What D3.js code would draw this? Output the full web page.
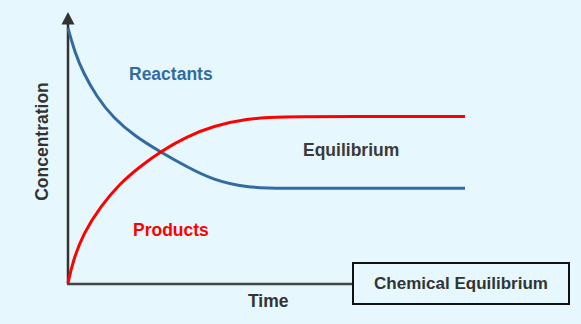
<!DOCTYPE html>
<html>
<head>
<meta charset="utf-8">
<script src="https://cdn.jsdelivr.net/npm/d3@7"></script>
<style>
  body { margin: 0; background: #e6f8fd; }
  svg { display: block; }
  text { font-family: "Liberation Sans", Arial, sans-serif; font-weight: bold; }
</style>
</head>
<body>
<svg id="canvas" width="581" height="324"></svg>
<script>
// time points and concentrations
let reactantTime = [0, 0.18, 0.39, 0.72, 1.14, 1.7, 2.32, 2.99, 3.66, 4.5, 5.34, 7, 10]
let reactantConc = [98, 88.3, 80.7, 71.7, 63.5, 56.3, 50.5, 44.7, 39.6, 36.7, 36.4, 36.4, 36.4]

let productTime = [0, 0.13, 0.39, 0.81, 1.31, 1.81, 2.32, 2.99, 3.66, 4.5, 5.34, 7, 10]
let productConc = [0, 8.8, 19.1, 29.3, 38.3, 44.7, 50.5, 56.3, 60.4, 63.2, 64, 64, 64]

let labels = ['Reactants', 'Products', 'Equilibrium']

let canvas = d3.select('#canvas')

let xScale = d3.scaleLinear().domain([0, 10]).range([68, 465])
let yScale = d3.scaleLinear().domain([0, 100]).range([283, 23])

let line = d3.line()
    .x((d) => xScale(d[0]))
    .y((d) => yScale(d[1]))
    .curve(d3.curveBasis)

// axes
canvas.append('line')
    .attr('x1', 68).attr('y1', 284)
    .attr('x2', 68).attr('y2', 22)
    .attr('stroke', '#333')
    .attr('stroke-width', 2.5)

canvas.append('path')
    .attr('d', 'M68,12 L74.5,24.5 L61.5,24.5 Z')
    .attr('fill', '#333')

canvas.append('line')
    .attr('x1', 67).attr('y1', 284)
    .attr('x2', 353).attr('y2', 284)
    .attr('stroke', '#444')
    .attr('stroke-width', 2.5)

// curves
let reactants = reactantTime.map((t, i) => [t, reactantConc[i]])
let products = productTime.map((t, i) => [t, productConc[i]])

canvas.append('path')
    .attr('d', line(reactants))
    .attr('fill', 'none')
    .attr('stroke', '#336aa0')
    .attr('stroke-width', 3)

canvas.append('path')
    .attr('d', line(products))
    .attr('fill', 'none')
    .attr('stroke', '#ff0000')
    .attr('stroke-width', 3)

// labels
canvas.append('text')
    .text(labels[0])
    .attr('x', 129).attr('y', 80)
    .attr('font-size', 17.5)
    .attr('fill', '#336aa0')

canvas.append('text')
    .text(labels[1])
    .attr('x', 133).attr('y', 236)
    .attr('font-size', 17.5)
    .attr('fill', '#ff0000')

canvas.append('text')
    .text(labels[2])
    .attr('x', 303).attr('y', 156)
    .attr('font-size', 17.5)
    .attr('fill', '#3a3a3a')

canvas.append('text')
    .text('Time')
    .attr('x', 248).attr('y', 307)
    .attr('font-size', 17.5)
    .attr('fill', '#333')

canvas.append('text')
    .text('Concentration')
    .attr('transform', 'translate(48, 141.5) rotate(-90)')
    .attr('text-anchor', 'middle')
    .attr('font-size', 17.5)
    .attr('fill', '#333')

// title box
canvas.append('rect')
    .attr('x', 353).attr('y', 263)
    .attr('width', 216).attr('height', 41)
    .attr('fill', '#e6f8fd')
    .attr('stroke', '#111')
    .attr('stroke-width', 2)

canvas.append('text')
    .text('Chemical Equilibrium')
    .attr('x', 461).attr('y', 289)
    .attr('text-anchor', 'middle')
    .attr('font-size', 17)
    .attr('fill', '#333')
</script>
</body>
</html>
